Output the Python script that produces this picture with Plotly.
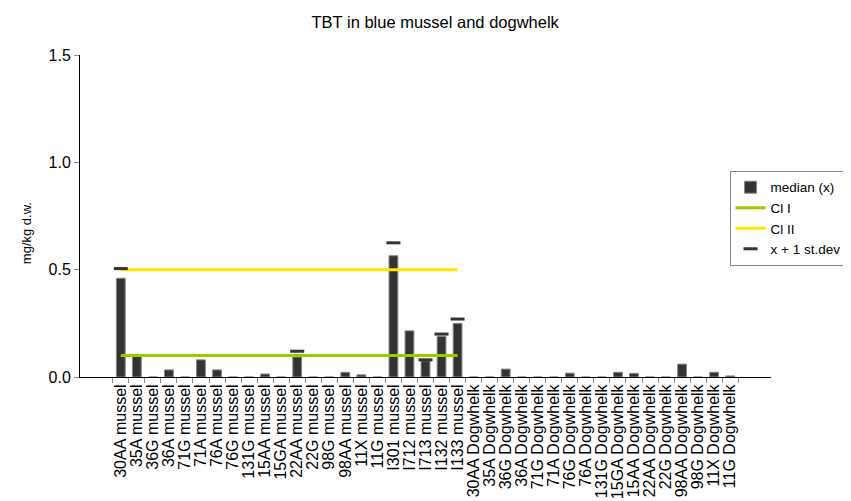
import plotly.graph_objects as go

mussel_sites = ["30AA", "35A", "36G", "36A", "71G", "71A", "76A", "76G", "131G", "15AA",
                "15GA", "22AA", "22G", "98G", "98AA", "11X", "11G", "I301", "I712", "I713",
                "I132", "I133"]
dogwhelk_sites = ["30AA", "35A", "36G", "36A", "71G", "71A", "76G", "76A", "131G", "15GA",
                  "15AA", "22AA", "22G", "98AA", "98G", "11X", "11G"]

categories = [f"{s} mussel" for s in mussel_sites] + [f"{s} Dogwhelk" for s in dogwhelk_sites]

mussel_median = [0.46, 0.095, 0, 0.033, 0, 0.08, 0.033, 0, 0, 0.014,
                 0, 0.093, 0, 0, 0.022, 0.01, 0, 0.565, 0.215, 0.075,
                 0.19, 0.25]
dogwhelk_median = [0, 0, 0.037, 0, 0, 0, 0.018, 0, 0, 0.022,
                   0.017, 0, 0, 0.06, 0, 0.022, 0.005]
median = mussel_median + dogwhelk_median

mussel_sd_top = [0.505, None, None, None, None, None, None, None, None, None,
                 None, 0.12, None, None, None, None, None, 0.625, None, 0.08,
                 0.2, 0.27]
dogwhelk_sd_top = [None] * len(dogwhelk_sites)
sd_top = mussel_sd_top + dogwhelk_sd_top

cl1 = 0.1
cl2 = 0.5
cl_cats = categories[: len(mussel_sites)]

fig = go.Figure()

fig.add_trace(go.Bar(
    x=categories, y=median, name="median (x)",
    marker=dict(color="#333333", line=dict(color="#888888", width=1)),
))
fig.add_trace(go.Scatter(
    x=cl_cats, y=[cl1] * len(cl_cats), name="Cl I", mode="lines",
    line=dict(color="#99cc00", width=3),
))
fig.add_trace(go.Scatter(
    x=cl_cats, y=[cl2] * len(cl_cats), name="Cl II", mode="lines",
    line=dict(color="#ffe600", width=3),
))
fig.add_trace(go.Scatter(
    x=categories, y=sd_top, name="x + 1 st.dev", mode="markers",
    marker=dict(symbol="line-ew", size=10, line=dict(color="#333333", width=3)),
))

# y-axis title as annotation (sits a bit below the plot centre in the original)
fig.add_annotation(
    text="mg/kg d.w.", xref="paper", yref="paper", x=-0.078, y=0.447,
    xanchor="center", yanchor="middle", textangle=-90, showarrow=False,
    font=dict(size=13),
)

fig.update_layout(
    width=851, height=501,
    paper_bgcolor="white", plot_bgcolor="white",
    font=dict(family="Liberation Sans, Arial, sans-serif", size=16, color="black"),
    title=dict(text="TBT in blue mussel and dogwhelk", x=0.502, y=0.972,
               xanchor="center", yanchor="middle", font=dict(size=16.5)),
    margin=dict(l=72, r=88, t=47, b=132, autoexpand=False),
    bargap=0.45,
    showlegend=True,
    legend=dict(x=0.94, y=0.64, xanchor="left", yanchor="top",
                bordercolor="#888888", borderwidth=1, bgcolor="white",
                font=dict(size=13.5), itemwidth=30),
    xaxis=dict(
        type="category", tickangle=-90, showline=True, linecolor="black", linewidth=1,
        ticks="outside", ticklen=5, tickcolor="#888888", showgrid=False,
        tickson="boundaries", tickfont=dict(size=16), dtick=1, automargin=False,
    ),
    yaxis=dict(
        range=[0, 1.5], tickvals=[0, 0.5, 1.0, 1.5], tickformat=".1f",
        showline=True, linecolor="black", linewidth=1, ticks="outside", ticklen=5,
        tickcolor="#888888", showgrid=False, zeroline=False, tickfont=dict(size=16),
        automargin=False,
    ),
)

fig.write_html("out.html")
